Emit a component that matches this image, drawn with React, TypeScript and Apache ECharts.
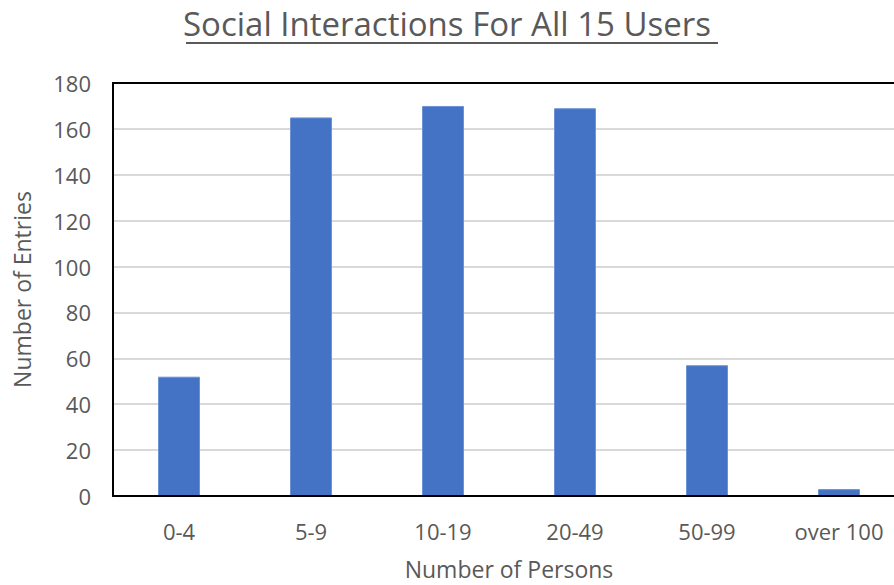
import React, { useEffect, useRef } from "react";
import * as echarts from "echarts";

const categories = ["0-4", "5-9", "10-19", "20-49", "50-99", "over 100"];
const entries = [52, 165, 170, 169, 57, 3];
const yTicks = { min: 0, max: 180, interval: 20 };
const titleText = "Social Interactions For All 15 Users";
const xName = "Number of Persons";
const yName = "Number of Entries";

const FONT = "'Open Sans', sans-serif";
const GRAY = "#595959";

export default function App() {
  const ref = useRef<HTMLDivElement>(null);
  useEffect(() => {
    document.body.style.margin = "0";
    const chart = echarts.init(ref.current!, null, { renderer: "svg" });
    chart.setOption({
      animation: false,
      backgroundColor: "#ffffff",
      title: {
        text: titleText,
        left: "center",
        top: 2,
        textStyle: { fontFamily: FONT, fontSize: 33, fontWeight: "normal", color: GRAY },
      },
      graphic: [
        {
          type: "line",
          shape: { x1: 186, y1: 43, x2: 718, y2: 43 },
          style: { stroke: GRAY, lineWidth: 2 },
        },
      ],
      grid: {
        left: 113,
        top: 83,
        bottom: 89,
        right: -11,
        show: false,
        containLabel: false,
        outerBoundsMode: "none",
      },
      xAxis: [
        {
          type: "category",
          data: categories,
          name: xName,
          nameLocation: "middle",
          nameGap: 61,
          nameTextStyle: { fontFamily: FONT, fontSize: 23, lineHeight: 23, color: GRAY },
          axisLine: { show: true, lineStyle: { color: "#000000", width: 2 } },
          axisTick: { show: false },
          axisLabel: { fontFamily: FONT, fontSize: 22, color: GRAY, margin: 24 },
          z: 5,
        },
        {
          type: "category",
          data: categories,
          position: "top",
          axisLine: { show: true, lineStyle: { color: "#000000", width: 2 } },
          axisTick: { show: false },
          axisLabel: { show: false },
          splitLine: { show: false },
          z: 5,
        },
      ],
      yAxis: {
        type: "value",
        min: yTicks.min,
        max: yTicks.max,
        interval: yTicks.interval,
        name: yName,
        nameLocation: "middle",
        nameGap: 80,
        nameTextStyle: { fontFamily: FONT, fontSize: 23, color: GRAY },
        axisLine: { show: true, lineStyle: { color: "#000000", width: 2 } },
        axisTick: { show: false },
        axisLabel: { fontFamily: FONT, fontSize: 22, color: GRAY, margin: 22 },
        splitLine: { show: true, lineStyle: { color: "#D9D9D9", width: 2 } },
      },
      series: [
        {
          type: "bar",
          data: entries,
          barWidth: 42,
          itemStyle: { color: "#4472C4", borderColor: "#6C93D6", borderWidth: 1 },
        },
      ],
    });
    return () => chart.dispose();
  }, []);
  return <div ref={ref} style={{ width: 894, height: 585 }} />;
}
